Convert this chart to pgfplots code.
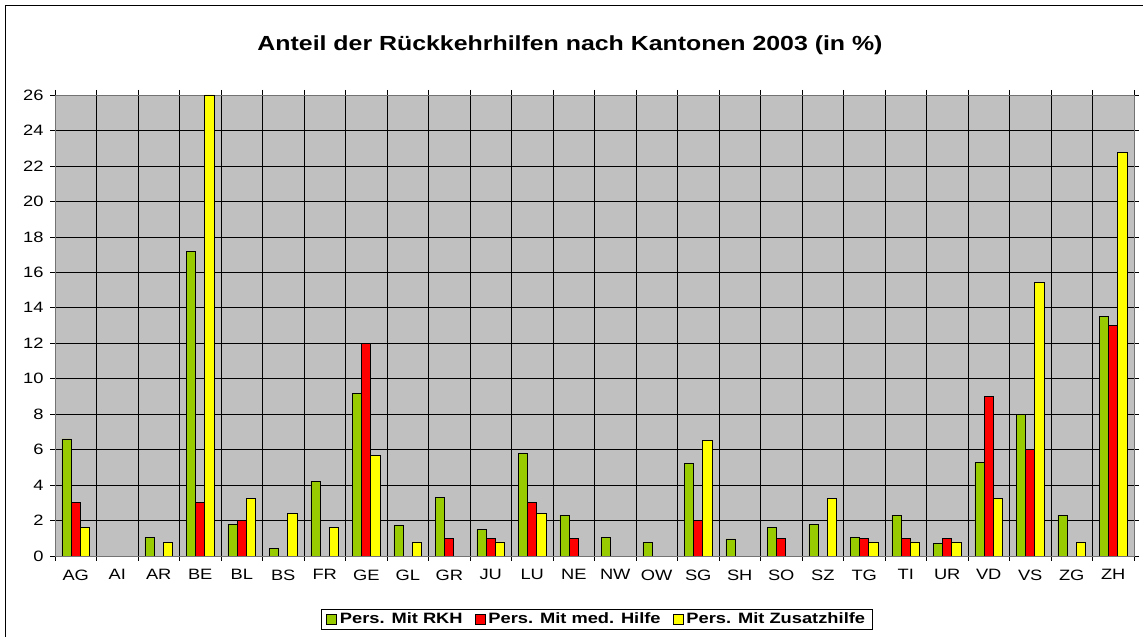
\documentclass[border=0pt]{standalone}
\usepackage{pgfplots}
\pgfplotsset{compat=1.18}
\usepackage{fontspec}
\setmainfont{Liberation Sans}[FakeStretch=1.22]
\definecolor{cgreen}{HTML}{99CC00}
\definecolor{cred}{HTML}{FF0000}
\definecolor{cyellow}{HTML}{FFFF00}
\definecolor{cbg}{HTML}{C0C0C0}
\begin{document}
\begin{tikzpicture}[x=1pt,y=1pt]
\path[use as bounding box] (0,0) rectangle (1143,637);
\draw[line width=1.6pt] (5.5,0) -- (5.5,631.5) -- (1143,631.5);
\node[font=\bfseries\fontsize{20.4}{24}\selectfont] at (570,592) {Anteil der Rückkehrhilfen nach Kantonen 2003 (in \%)};
\begin{axis}[
  at={(55pt,81pt)}, anchor=south west,
  width=1079pt, height=461pt, scale only axis,
  xmin=-0.5, xmax=25.5, ymin=0, ymax=26,
  ybar=0pt, bar width=9.2pt,
  axis background/.style={fill=cbg},
  axis line style={draw=black!55, line width=0.8pt},
  xtick={0,...,25},
  xticklabels={AG,AI,AR,BE,BL,BS,FR,GE,GL,GR,JU,LU,NE,NW,OW,SG,SH,SO,SZ,TG,TI,UR,VD,VS,ZG,ZH},
  minor xtick={-0.5,0.5,...,25.5},
  ytick={0,2,...,26},
  x tick style={draw=none},
  minor x tick style={draw=black, line width=0.6pt},
  y tick style={draw=black, line width=0.6pt},
  tick align=outside,
  major tick length=5pt, minor tick length=5pt,
  xminorgrids=true, ymajorgrids=true,
  minor x grid style={black, line width=0.6pt},
  major y grid style={black, line width=0.6pt},
  tick label style={font=\fontsize{15}{18}\selectfont},
  /pgf/number format/assume math mode=true,
  xticklabel style={yshift=-5pt},
  yticklabel style={xshift=-3pt},
  legend columns=3,
  legend style={at={(0.502,-0.137)}, anchor=center, draw=black, line width=0.8pt,
    font=\bfseries\fontsize{15}{17}\selectfont, inner xsep=5pt, inner ysep=2pt,
    /tikz/every even column/.append style={column sep=10pt},
    /tikz/every odd column/.append style={column sep=1pt}},
  legend image code/.code={\draw[#1, line width=0.8pt] (0pt,-5pt) rectangle (10pt,5pt);},
  every axis plot/.append style={draw=black, line width=0.8pt},
]
\addplot[fill=cgreen] coordinates {(0,6.6) (2,1.05) (3,17.2) (4,1.8) (5,0.43) (6,4.2) (7,9.15) (8,1.7) (9,3.3) (10,1.5) (11,5.8) (12,2.3) (13,1.05) (14,0.77) (15,5.2) (16,0.96) (17,1.6) (18,1.77) (19,1.05) (20,2.3) (21,0.7) (22,5.26) (23,7.97) (24,2.3) (25,13.5)};
\addplot[fill=cred] coordinates {(0,3) (3,3) (4,2) (7,12) (9,1) (10,1) (11,3) (12,1) (15,2) (17,1) (19,0.98) (20,1) (21,1) (22,9) (23,6) (25,13)};
\addplot[fill=cyellow] coordinates {(0,1.6) (2,0.77) (3,26) (4,3.23) (5,2.42) (6,1.6) (7,5.66) (8,0.79) (10,0.79) (11,2.42) (15,6.5) (18,3.23) (19,0.79) (20,0.79) (21,0.79) (22,3.23) (23,15.43) (24,0.79) (25,22.76)};
\legend{Pers. Mit RKH, Pers. Mit med. Hilfe, Pers. Mit Zusatzhilfe}
\end{axis}
\end{tikzpicture}
\end{document}
